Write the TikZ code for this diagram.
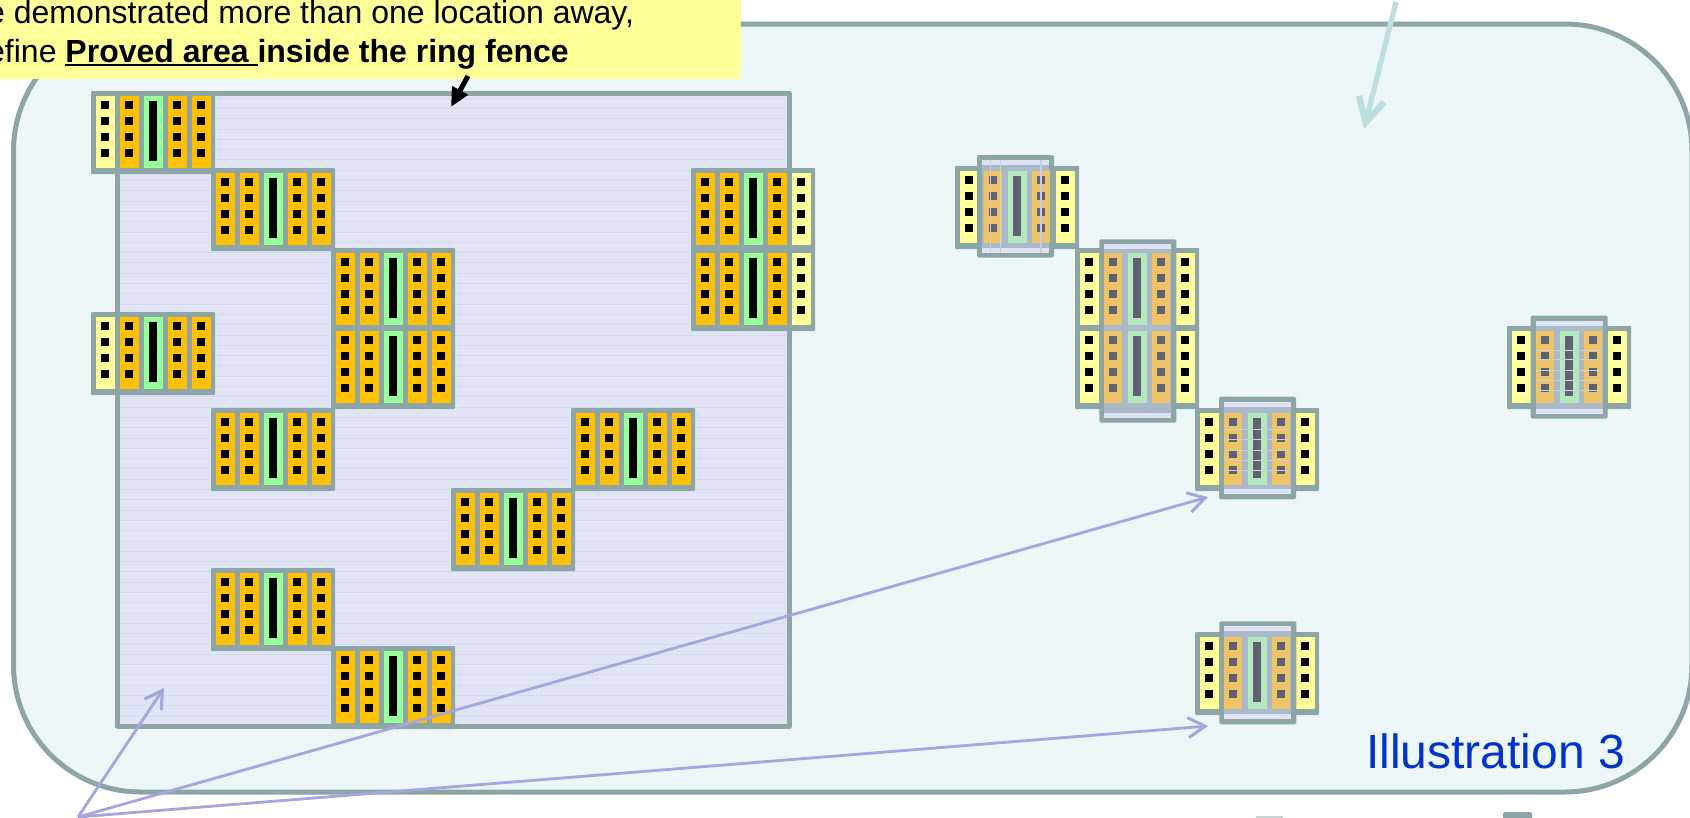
\documentclass[tikz,border=0pt]{standalone}
\usepackage{fontspec}
\setmainfont{Liberation Sans}
\usetikzlibrary{arrows.meta,patterns.meta}
\definecolor{frameC}{HTML}{8CA6A8}
\definecolor{outerC}{HTML}{ECF6F7}
\definecolor{innerC}{HTML}{E1E4F5}
\definecolor{lineC}{HTML}{D6DAF0}
\definecolor{calloutC}{HTML}{FFFF99}
\definecolor{oC}{HTML}{FFC000}
\definecolor{yC}{HTML}{FFFF99}
\definecolor{gC}{HTML}{99FF99}
\definecolor{foC}{HTML}{EFC468}
\definecolor{fgC}{HTML}{B5E8BF}
\definecolor{fsC}{HTML}{5F6072}
\definecolor{grayC}{HTML}{A9B9C9}
\definecolor{lavC}{HTML}{DFE2F2}
\definecolor{tealA}{HTML}{BCDFE2}
\definecolor{lavA}{HTML}{A5A5E0}
\definecolor{blueT}{HTML}{0033CC}
\newcommand\ulbold[1]{\setbox0=\hbox{#1}\rlap{\rule[-3.6pt]{\wd0}{2pt}}\box0}
% column at x,y: fill colour and square colour
\newcommand\ColDots[4]{%
  \fill[#3] (#1,#2) rectangle ++(#4,72.3);
  \foreach \k in {0,1,2,3} \fill[black] ({#1+5},{#2+5+16*\k}) rectangle ++(8,8);}
\newcommand\ColFade[4]{%
  \fill[#3] (#1,#2) rectangle ++(#4,72.3);
  \foreach \k in {0,1,2,3} \fill[fsC] ({#1+5},{#2+5+16*\k}) rectangle ++(8,8);}
\newcommand\ColBar[3]{%
  \fill[#3] (#1,#2) rectangle ++(18.7,72.3);
  \fill[black!100] ({#1+5},{#2+5}) rectangle ++(8,60);}
% bright block: x, y of first cell, colours of first and last column
\newcommand\BBlock[4]{%
  \fill[frameC,rounded corners=1pt] ({#1-5},{#2-5}) rectangle ++(124,83);
  \ColDots{#1}{#2}{#3}{18.7}
  \ColDots{#1+24}{#2}{oC}{18.7}
  \ColBar{#1+48}{#2}{gC}
  \ColDots{#1+72}{#2}{oC}{18.7}
  \ColDots{#1+96}{#2}{#4}{18.7}}
\newcommand\SideCols[2]{%
  \fill[frameC,rounded corners=1pt] ({#1-5},{#2-5}) rectangle ++(124,83);}
\newcommand\FadeCells[2]{%
  \ColDots{#1}{#2}{yC}{18.7}
  \ColDots{#1+96}{#2}{yC}{18.7}}
\newcommand\FadeInner[2]{%
  \ColFade{#1+24}{#2}{foC}{18}
  \fill[fgC] ({#1+48},#2) rectangle ++(18.7,72.3);
  \fill[fsC] ({#1+53},{#2+5}) rectangle ++(8,60);
  \ColFade{#1+72}{#2}{foC}{18}}
% inner frame: left x, top y, bottom y
\newcommand\FadeFrame[3]{%
  \fill[frameC,rounded corners=1.5pt] (#1,#2) rectangle ({#1+77},#3);
  \fill[grayC] ({#1+5},{#2+5}) rectangle ({#1+72},{#3-5});
  \fill[lavC] ({#1+5},{#2+5}) rectangle ({#1+72},{#2+10});
  \fill[lavC] ({#1+5},{#3-10}) rectangle ({#1+72},{#3-5});}
\begin{document}
\begin{tikzpicture}[x=1pt,y=-1pt,
  bigline/.style={draw=frameC,line width=5pt,line join=round},
  lavarrow/.style={draw=lavA,line width=2.8pt,-{Straight Barb[length=17pt,width=20pt,line width=3pt]}},
  tealarrow/.style={draw=tealA,line width=5.3pt,-{Straight Barb[length=24pt,width=26pt,line width=6.5pt]}},
  blackarrow/.style={draw=black,line width=5pt,-{Triangle[length=19pt,width=17pt]}},
  faintline/.style={draw=white!35!grayC,line width=.5pt},
  bodytext/.style={anchor=base west,inner sep=0pt,font=\fontsize{32}{38}\selectfont,text=black}]
\useasboundingbox (0,0) rectangle (1690,817);
\clip (0,0) rectangle (1690,817);
\fill[white] (0,0) rectangle (1690,817);
% outer ring fence
\path[fill=outerC,rounded corners=127pt] (13.5,24) rectangle (1692,792);
\path[pattern={Dots[distance=4pt,radius=0.55pt]},pattern color=white,rounded corners=127pt] (13.5,24) rectangle (1692,792);
\path[bigline,rounded corners=127pt] (13.5,24) rectangle (1692,792);
% proved area
\fill[innerC] (117.5,93.5) rectangle (789,726);
\path[pattern={Dots[distance=4pt,radius=0.55pt]},pattern color=white!70!innerC] (117.5,93.5) rectangle (789,726);
\foreach \yy in {0,...,61} \draw[lineC,line width=.7pt] (120,{98+10.3*\yy}) -- (787,{98+10.3*\yy});
\path[bigline] (117.5,93.5) rectangle (789,726);
% bright blocks
\BBlock{96}{96}{yC}{oC}
\BBlock{216}{173}{oC}{oC}
\BBlock{336}{253}{oC}{oC}
\BBlock{336}{331}{oC}{oC}
\BBlock{96}{317}{yC}{oC}
\BBlock{216}{413}{oC}{oC}
\BBlock{576}{413}{oC}{oC}
\BBlock{456}{493}{oC}{oC}
\BBlock{216}{573}{oC}{oC}
\BBlock{336}{651}{oC}{oC}
\BBlock{696}{173}{oC}{yC}
\BBlock{696}{253}{oC}{yC}
% faded blocks
\SideCols{960}{171}\FadeCells{960}{171}\FadeFrame{977}{155}{257.7}\FadeInner{960}{171}
\foreach \xx in {990,1000,1040,1041} \draw[faintline] (\xx,160) -- (\xx,253);
\SideCols{1080}{253}\SideCols{1080}{331}\FadeCells{1080}{253}\FadeCells{1080}{331}
\FadeFrame{1099.3}{239.3}{422.7}\FadeInner{1080}{253}\FadeInner{1080}{331}
\SideCols{1200}{413}\FadeCells{1200}{413}\FadeFrame{1219}{396.7}{499.3}\FadeInner{1200}{413}
\foreach \yy in {429,439,450,460,470} \draw[faintline] (1224,\yy) -- (1290,\yy);
\SideCols{1200}{637}\FadeCells{1200}{637}\FadeFrame{1219.3}{621.3}{724.3}\FadeInner{1200}{637}
\SideCols{1512}{331}\FadeCells{1512}{331}\FadeFrame{1530.7}{315.7}{418.7}\FadeInner{1512}{331}
\foreach \yy in {350,359,370,380,390} \draw[faintline] (1536,\yy) -- (1602,\yy);
% bottom edge remnants
\fill[frameC!50!white,rounded corners=1pt] (1256,816) rectangle (1283,820);
\fill[frameC,rounded corners=1.5pt] (1503,812) rectangle (1532,822);
% callout
\fill[calloutC] (-5,-5) rectangle (741,79);
\node[bodytext] (lineone) at (-13,23.5) {e demonstrated more than one location away,};
\node[bodytext] (linetwo) at (-13,62) {efine \textbf{\ulbold{Proved area }inside the ring fence}};
% arrows
\coordinate (blackfrom) at (468,76);
\coordinate (blackto) at (451,107);
\draw[blackarrow] (blackfrom) -- (blackto);
\coordinate (tealfrom) at (1396,2);
\coordinate (tealto) at (1364,129);
\draw[tealarrow] (tealfrom) -- (tealto);
\coordinate (lavfrom) at (78,817);
\coordinate (lavA1) at (164,688);
\coordinate (lavA2) at (1208,497);
\coordinate (lavA3) at (1208,726);
\draw[lavarrow] (lavfrom) -- (lavA1);
\draw[lavarrow] (lavfrom) -- (lavA2);
\draw[lavarrow] (lavfrom) -- (lavA3);
\node[anchor=base west,inner sep=0pt,font=\fontsize{48}{52}\selectfont,text=blueT] (illus) at (1366,768.3) {Illustration 3};
\end{tikzpicture}
\end{document}
